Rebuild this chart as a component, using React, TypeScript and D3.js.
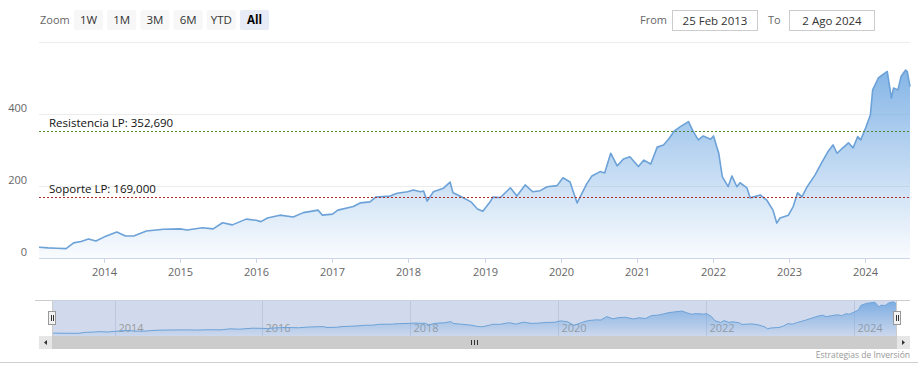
import React, { useEffect } from "react";
import * as d3 from "d3";

// price series
const dates = [
  "2013-02-25", "2013-04-10", "2013-05-20", "2013-07-05", "2013-08-10", "2013-09-15", "2013-10-20", "2013-11-25",
  "2014-01-02", "2014-03-05", "2014-04-15", "2014-05-25", "2014-07-25", "2014-10-15",
  "2015-01-02", "2015-02-05", "2015-04-20", "2015-06-10", "2015-07-25", "2015-09-10", "2015-11-15",
  "2016-01-02", "2016-01-25", "2016-02-25", "2016-04-25", "2016-06-28", "2016-08-15", "2016-10-25", "2016-11-15",
  "2017-01-02", "2017-01-28", "2017-04-12", "2017-05-15", "2017-07-01", "2017-07-28", "2017-10-05", "2017-11-08", "2017-12-28",
  "2018-01-25", "2018-02-28", "2018-03-15", "2018-04-01", "2018-05-01", "2018-06-18", "2018-07-20", "2018-08-03",
  "2018-09-05", "2018-10-28", "2018-11-28", "2018-12-24",
  "2019-01-28", "2019-02-10", "2019-03-18", "2019-05-05", "2019-06-05", "2019-07-15", "2019-08-20", "2019-09-25",
  "2019-10-28", "2019-12-15",
  "2020-01-12", "2020-02-15", "2020-03-20", "2020-05-05", "2020-05-30", "2020-07-08", "2020-07-30", "2020-08-28",
  "2020-09-28", "2020-10-28", "2020-11-28",
  "2021-01-08", "2021-02-03", "2021-03-08", "2021-04-08", "2021-05-08", "2021-06-01", "2021-07-01", "2021-07-28",
  "2021-09-05", "2021-09-28", "2021-10-22", "2021-11-15", "2021-12-20",
  "2022-01-03", "2022-01-28", "2022-02-14", "2022-03-14", "2022-04-01", "2022-04-25", "2022-05-10", "2022-06-12",
  "2022-06-28", "2022-08-15", "2022-09-15", "2022-10-15", "2022-11-02", "2022-11-18", "2022-12-28",
  "2023-01-20", "2023-02-10", "2023-03-03", "2023-03-28", "2023-05-05", "2023-06-05", "2023-07-05", "2023-07-30",
  "2023-08-18", "2023-09-15", "2023-10-12", "2023-11-03", "2023-11-25", "2023-12-10",
  "2024-01-02", "2024-01-25", "2024-02-05", "2024-03-03", "2024-04-05", "2024-04-15", "2024-05-05", "2024-05-15",
  "2024-06-05", "2024-06-20", "2024-07-12", "2024-07-20", "2024-08-02",
];

const prices = [
  30, 28, 27, 26, 42, 46, 53, 47,
  58, 72, 61, 61, 75, 80,
  81, 78, 84, 81, 98, 92, 108,
  105, 101, 111, 119, 114, 126, 133, 119,
  122, 133, 143, 153, 156, 169, 172, 180, 184,
  189, 184, 186, 158, 184, 194, 211, 181,
  172, 156, 136, 130,
  156, 169, 168, 195, 172, 203, 184, 187,
  198, 201,
  223, 211, 153, 206, 228, 240, 236, 291,
  256, 275, 281,
  254, 272, 261, 308, 314, 330, 354, 365,
  379, 351, 328, 339, 330,
  339, 291, 226, 198, 228, 198, 209, 195,
  167, 175, 161, 133, 97, 111, 119,
  143, 181, 170, 198, 231, 264, 295, 314,
  291, 306, 320, 306, 337, 328,
  361, 397, 467, 500, 514, 518, 444, 472,
  467, 504, 522, 518, 476,
];

const yTicks = [0, 200, 400, 600];
const yearTicks = [2014, 2015, 2016, 2017, 2018, 2019, 2020, 2021, 2022, 2023, 2024];
const navYearTicks = [2014, 2016, 2018, 2020, 2022, 2024];
const zoomButtons = ["1W", "1M", "3M", "6M", "YTD", "All"];
const plotLineValues = [352.69, 169];
const plotLineLabels = ["Resistencia LP: 352,690", "Soporte LP: 169,000"];
const plotLineColors = ["#4e8a2e", "#b02a2a"];
const fromLabel = "25 Feb 2013";
const toLabel = "2 Ago 2024";

const W = 918;
const H = 374;
const left = 39;
const right = 910;
const top = 42;
const bottom = 258;
const navTop = 300;
const navBottom = 336;
const navLeft = 52;
const navRight = 897;
const font = "'Open Sans', sans-serif";

const parse = d3.timeParse("%Y-%m-%d");
const points = dates.map((d, i) => ({ date: parse(d) as Date, value: prices[i] }));

export default function App() {
  useEffect(() => {
    document.body.style.margin = "0";
  }, []);

  const x = d3.scaleTime().domain([points[0].date, points[points.length - 1].date]).range([left, right]);
  const y = d3.scaleLinear().domain([0, 600]).range([bottom, top]);

  const area = d3.area<any>().x((d) => x(d.date)).y0(bottom).y1((d) => y(d.value));
  const line = d3.line<any>().x((d) => x(d.date)).y((d) => y(d.value));

  const nx = d3.scaleTime().domain(x.domain()).range([navLeft, navRight]);
  const ny = d3
    .scaleLinear()
    .domain([0, d3.max(prices) as number])
    .range([navBottom - 1, navTop + 2]);
  const navArea = d3.area<any>().x((d) => nx(d.date)).y0(navBottom).y1((d) => ny(d.value));
  const navLine = d3.line<any>().x((d) => nx(d.date)).y((d) => ny(d.value));

  const yearDate = (yr: number) => new Date(yr, 0, 1);

  return (
    <svg width={W} height={H} style={{ display: "block", fontFamily: font }}>
      <defs>
        <linearGradient id="mainFill" gradientUnits="userSpaceOnUse" x1="0" y1={top} x2="0" y2={bottom}>
          <stop offset="0" stopColor="#74abe3" stopOpacity={1} />
          <stop offset="1" stopColor="#74abe3" stopOpacity={0.04} />
        </linearGradient>
        <linearGradient id="navFill" gradientUnits="userSpaceOnUse" x1="0" y1={navTop} x2="0" y2={navBottom}>
          <stop offset="0" stopColor="#6fa6e0" stopOpacity={0.9} />
          <stop offset="1" stopColor="#6fa6e0" stopOpacity={0.05} />
        </linearGradient>
      </defs>
      <rect width={W} height={H} fill="#fff" />

      {/* range selector */}
      <text x={40} y={24} fontSize={11} fill="#666">Zoom</text>
      {zoomButtons.map((b, i) => {
        const bx = 74 + i * 33.2;
        const sel = b === "All";
        return (
          <g key={b}>
            <rect x={bx} y={10} width={29} height={20} rx={2} fill={sel ? "#e6ebf5" : "#f7f7f7"} />
            <text x={bx + 14.5} y={24} textAnchor="middle" fontSize={11.5} fontWeight={sel ? "bold" : "normal"} fill={sel ? "#000" : "#333"}>
              {b}
            </text>
          </g>
        );
      })}
      <text x={640} y={24} fontSize={11} fill="#666">From</text>
      <rect x={672.5} y={10.5} width={85} height={20} fill="#fff" stroke="#ccc" />
      <text x={715} y={25} textAnchor="middle" fontSize={11.5} fill="#333">{fromLabel}</text>
      <text x={768} y={24} fontSize={11} fill="#666">To</text>
      <rect x={789.5} y={10.5} width={85} height={20} fill="#fff" stroke="#ccc" />
      <text x={832} y={25} textAnchor="middle" fontSize={11.5} fill="#333">{toLabel}</text>

      {/* grid */}
      {yTicks.map((t) => (
        <g key={t}>
          <line x1={left} x2={right} y1={y(t) + 0.5} y2={y(t) + 0.5} stroke="#ececec" />
          {t < 600 && (
            <text x={27} y={y(t) - 2} textAnchor="end" fontSize={11} fill="#666">{t}</text>
          )}
        </g>
      ))}

      {/* series */}
      <path d={area(points) as string} fill="url(#mainFill)" />
      <path d={line(points) as string} fill="none" stroke="#6ca2d8" strokeWidth={1.6} strokeLinejoin="round" />

      {/* plot lines */}
      {plotLineValues.map((v, i) => (
        <g key={v}>
          <line x1={left} x2={right} y1={Math.round(y(v)) + 0.5} y2={Math.round(y(v)) + 0.5} stroke={plotLineColors[i]} strokeDasharray="2,2" />
          <text x={49} y={Math.round(y(v)) - 4} fontSize={11.5} fill="#111">{plotLineLabels[i]}</text>
        </g>
      ))}

      {/* x axis */}
      <line x1={left} x2={right} y1={bottom + 0.5} y2={bottom + 0.5} stroke="#ccd6eb" />
      {yearTicks.map((yr) => {
        const px = Math.round(x(yearDate(yr))) + 0.5;
        return (
          <g key={yr}>
            <line x1={px} x2={px} y1={bottom} y2={bottom + 5} stroke="#ccd6eb" />
            <text x={px} y={276} textAnchor="middle" fontSize={11} fill="#666">{yr}</text>
          </g>
        );
      })}

      {/* navigator */}
      <rect x={navLeft} y={navTop} width={navRight - navLeft} height={navBottom - navTop} fill="rgba(102,133,194,0.3)" />
      {navYearTicks.map((yr) => {
        const px = Math.round(nx(yearDate(yr))) + 0.5;
        return (
          <g key={yr}>
            <line x1={px} x2={px} y1={navTop} y2={navBottom} stroke="#bcc6dc" />
            <text x={px + 3} y={332} fontSize={11} fill="#999">{yr}</text>
          </g>
        );
      })}
      <path d={navArea(points) as string} fill="url(#navFill)" />
      <path d={navLine(points) as string} fill="none" stroke="#6ca2d8" strokeWidth={1} />
      <path
        d={`M${left - 4},${navTop + 0.5}H${navLeft + 0.5}V${navBottom}M${navRight - 0.5},${navBottom}V${navTop + 0.5}H${right}`}
        fill="none"
        stroke="#ccc"
      />
      <line x1={navLeft} x2={navRight} y1={navTop + 0.5} y2={navTop + 0.5} stroke="#c8d0e2" />
      {[navLeft, navRight].map((hx) => (
        <g key={hx}>
          <rect x={hx - 3.5} y={311.5} width={7} height={13} fill="#f2f2f2" stroke="#999" />
          <line x1={hx - 0.5} x2={hx - 0.5} y1={315} y2={321} stroke="#333" />
          <line x1={hx + 1.5} x2={hx + 1.5} y1={315} y2={321} stroke="#333" />
        </g>
      ))}

      {/* scrollbar */}
      <rect x={left} y={navBottom} width={right - left} height={13} fill="#f2f2f2" />
      <rect x={navLeft} y={navBottom} width={navRight - navLeft} height={13} fill="#cccccc" />
      <rect x={left} y={navBottom} width={13} height={13} fill="#e6e6e6" />
      <rect x={navRight} y={navBottom} width={13} height={13} fill="#e6e6e6" />
      <path d={`M${left + 8},${navBottom + 4}L${left + 5},${navBottom + 6.5}L${left + 8},${navBottom + 9}Z`} fill="#333" />
      <path d={`M${navRight + 5},${navBottom + 4}L${navRight + 8},${navBottom + 6.5}L${navRight + 5},${navBottom + 9}Z`} fill="#333" />
      {[-3, 0, 3].map((o) => (
        <line key={o} x1={474.5 + o} x2={474.5 + o} y1={navBottom + 4} y2={navBottom + 9} stroke="#333" />
      ))}

      {/* credits + bottom border */}
      <text x={910} y={358} textAnchor="end" fontSize={8.5} fill="#999">Estrategias de Inversión</text>
      <line x1={0} x2={W} y1={362.5} y2={362.5} stroke="#d0d0d0" />
    </svg>
  );
}
